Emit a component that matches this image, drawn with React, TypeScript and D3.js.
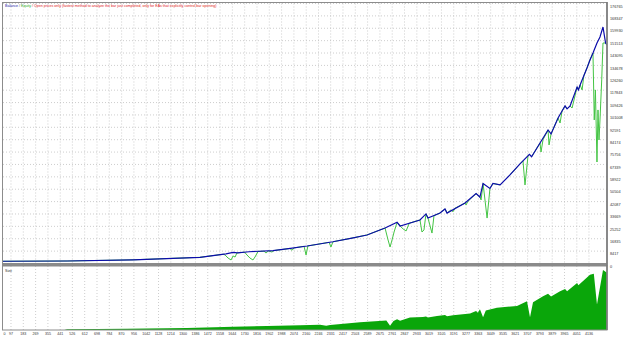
import React from "react";
import * as d3 from "d3";

const W = 625;
const H = 338;

// trade index, balance value
const balance: [number, number][] = [
  [0, 1500], [489, 1700], [950, 2500], [1418, 4200], [1600, 6600], [1649, 7500], [1680, 7200],
  [1760, 8000], [1928, 8700], [2050, 10300], [2166, 11900], [2347, 14800], [2480, 17300],
  [2585, 19400], [2711, 24100], [2795, 28000], [2816, 25500], [2955, 29600], [2997, 33700],
  [3011, 30900], [3095, 34300], [3130, 37100], [3144, 34300], [3270, 41100], [3347, 47600],
  [3374, 45200], [3396, 54400], [3444, 51000], [3465, 54400], [3515, 53400], [3584, 60200],
  [3654, 67700], [3720, 74200], [3735, 72600], [3794, 81900], [3850, 90800], [3871, 88100],
  [3920, 98900], [3948, 103700], [3969, 107100], [3983, 105100], [4004, 107100], [4053, 120000],
  [4062, 118000], [4074, 121400], [4122, 132900], [4143, 138400], [4164, 143100], [4192, 149900],
  [4213, 154000], [4234, 160800], [4252, 149900], [4262, 148600],
];

// trade index, equity value
const equity: [number, number][] = [
  [0, 1500], [489, 1700], [950, 2500], [1418, 4200],
  [1580, 6300], [1593, 5800], [1614, 3700], [1635, 2400], [1649, 5100], [1663, 4400], [1676, 7200],
  [1730, 7700], [1746, 5800], [1767, 3700], [1788, 2400], [1802, 4400], [1823, 8100],
  [1865, 8400], [1879, 7100], [1895, 8500], [1921, 7800], [1935, 8800],
  [2045, 10200], [2061, 9000], [2075, 10600],
  [2145, 11700], [2159, 5800], [2172, 11950],
  [2320, 14400], [2333, 11200], [2347, 14800], [2480, 17300],
  [2585, 19400], [2711, 24100], [2732, 16000], [2746, 11200], [2760, 16000], [2774, 21400],
  [2795, 28000], [2816, 25500], [2837, 23500], [2858, 22100], [2880, 27400],
  [2955, 29600], [2969, 21400], [2983, 22800], [2997, 33700], [3011, 30900], [3039, 20700],
  [3053, 32500], [3095, 34300], [3130, 37100], [3144, 34300],
  [3172, 36500], [3186, 35200], [3200, 37600], [3270, 41100], [3277, 39800], [3290, 42200],
  [3347, 47600], [3374, 45200], [3382, 43200], [3396, 54400], [3424, 30900], [3444, 51000],
  [3465, 54400], [3515, 53400], [3584, 60200], [3654, 67700],
  [3675, 69800], [3689, 53400], [3710, 73200], [3720, 74200], [3735, 72600],
  [3794, 81900], [3801, 75800], [3815, 84200], [3850, 90800], [3857, 80600], [3871, 88100],
  [3920, 98900], [3934, 95500], [3948, 103700], [3969, 107100], [3983, 105100], [4004, 107100],
  [4018, 105700], [4053, 120000], [4062, 118000], [4074, 121400], [4088, 118000], [4100, 127600],
  [4122, 132900], [4143, 138400], [4164, 143100],
  [4173, 97600], [4181, 118000], [4192, 69000], [4199, 104400], [4206, 84000], [4213, 97600],
  [4225, 124800], [4234, 149900], [4252, 149900], [4262, 148600],
];

// trade index, lot size
const size: [number, number][] = [
  [0, 0], [470, 0], [489, 0.08], [908, 0.13], [1327, 0.2], [1649, 0.34], [1886, 0.41],
  [2117, 0.49], [2257, 0.55], [2300, 0.45], [2327, 0.52], [2536, 0.8], [2720, 1.0],
  [2746, 0.45], [2770, 0.95], [2795, 1.12], [2816, 0.98], [2885, 1.31], [2976, 1.36],
  [2997, 1.42], [3011, 1.3], [3074, 1.48], [3130, 1.58], [3144, 1.45], [3186, 1.55],
  [3305, 1.72], [3347, 2.0], [3360, 1.8], [3374, 2.17], [3396, 1.34], [3415, 2.05],
  [3493, 2.34], [3633, 2.51], [3703, 3.02], [3724, 1.34], [3745, 2.9], [3815, 3.54],
  [3850, 3.8], [3871, 3.5], [3934, 4.06], [3969, 4.3], [3983, 4.05], [4053, 4.92],
  [4062, 4.7], [4143, 5.78], [4170, 5.9], [4192, 2.68], [4234, 6.3], [4262, 6.0],
];

const yTickLabels = [
  "0", "8417", "16835", "25252", "33669", "42087", "50504", "58922", "67339", "75756",
  "84174", "92591", "101008", "109426", "117843", "126260", "134678", "143095", "151513",
  "159930", "168347", "176765",
];

const xTickLabels = [
  "0", "97", "183", "269", "355", "441", "526", "612", "698", "784", "870", "956", "1042",
  "1128", "1214", "1300", "1386", "1472", "1558", "1644", "1730", "1816", "1902", "1988",
  "2074", "2160", "2246", "2331", "2417", "2503", "2589", "2675", "2761", "2847", "2933",
  "3019", "3105", "3191", "3277", "3363", "3449", "3535", "3621", "3707", "3793", "3879",
  "3965", "4051", "4136",
];

const TITLE_BAL = "Balance";
const TITLE_EQ = "Equity";
const TITLE_REST =
  " / Open prices only (fastest method to analyze the bar just completed, only for EAs that explicitly control bar opening)";

export default function App() {
  const left = 3;
  const right = 607;
  const mainTop = 3.5;
  const mainBottom = 263.5;
  const subTop = 266;
  const subBottom = 330;

  const xScale = d3.scaleLinear().domain([0, 4262]).range([-2.9, right]);
  const yScale = d3.scaleLinear().domain([0, 176765]).range([mainBottom, mainTop]);
  const sScale = d3.scaleLinear().domain([0, 6.5]).range([subBottom, 268]);

  const line = d3
    .line<[number, number]>()
    .x((d) => xScale(d[0]))
    .y((d) => yScale(d[1]));
  const area = d3
    .area<[number, number]>()
    .x((d) => xScale(d[0]))
    .y0(sScale(0))
    .y1((d) => sScale(d[1]));

  const font = "'Liberation Sans', Arial, sans-serif";
  const grid = { stroke: "#b8b8b8", strokeWidth: 0.7, strokeDasharray: "1 2" };

  return (
    <svg
      width={W}
      height={H}
      viewBox={`0 0 ${W} ${H}`}
      style={{ position: "absolute", left: 0, top: 0, background: "#fff" }}
    >
      <defs>
        <clipPath id="mainClip">
          <rect x={left} y={mainTop - 1} width={right - left} height={mainBottom - mainTop + 1} />
        </clipPath>
        <clipPath id="subClip">
          <rect x={left} y={subTop} width={right - left} height={subBottom - subTop} />
        </clipPath>
      </defs>
      <rect x={0} y={0} width={W} height={H} fill="#fff" />

      {yTickLabels.map((t) => (
        <line key={"hy" + t} x1={left} x2={right} y1={yScale(+t)} y2={yScale(+t)} {...grid} />
      ))}
      {xTickLabels.slice(1).map((t) => (
        <g key={"vx" + t}>
          <line x1={xScale(+t)} x2={xScale(+t)} y1={mainTop} y2={mainBottom} {...grid} />
          <line x1={xScale(+t)} x2={xScale(+t)} y1={subTop} y2={subBottom} {...grid} />
        </g>
      ))}

      <g clipPath="url(#subClip)">
        <path d={area(size) || ""} fill="#0aa60a" />
      </g>

      <g clipPath="url(#mainClip)">
        <path d={line(equity) || ""} fill="none" stroke="#44c444" strokeWidth={1} />
        <path d={line(balance) || ""} fill="none" stroke="#0c0cab" strokeWidth={1.2} />
      </g>

      <rect x={2.5} y={2.5} width={right - 2.5} height={mainBottom - 2.5} fill="none" stroke="#8c8c8c" strokeWidth={1} />
      <rect x={2.5} y={subTop} width={right - 2.5} height={subBottom - subTop} fill="none" stroke="#8c8c8c" strokeWidth={1} />
      <rect x={2} y={mainBottom} width={right - 1.5} height={subTop - mainBottom} fill="#8a8a8a" />
      <line x1={right} x2={right} y1={2} y2={subBottom} stroke="#7a7a7a" strokeWidth={1.6} />

      <text x={5} y={7.3} fontSize={3.6} fontFamily={font}>
        <tspan fill="#1a1aa8">{TITLE_BAL}</tspan>
        <tspan fill="#444"> / </tspan>
        <tspan fill="#2aa82a">{TITLE_EQ}</tspan>
        <tspan fill="#e02020">{TITLE_REST}</tspan>
      </text>
      <text x={5} y={271.5} fontSize={3.6} fontFamily={font} fill="#333">
        Size
      </text>

      {yTickLabels.map((t) => (
        <text key={"yl" + t} x={610} y={yScale(+t) + 4.2} fontSize={3.8} fontFamily={font} fill="#333">
          {t}
        </text>
      ))}
      {xTickLabels.map((t) => (
        <text
          key={"xl" + t}
          x={Math.max(xScale(+t), 4.5)}
          y={335.3}
          fontSize={3.6}
          fontFamily={font}
          fill="#333"
          textAnchor="middle"
        >
          {t}
        </text>
      ))}
    </svg>
  );
}
